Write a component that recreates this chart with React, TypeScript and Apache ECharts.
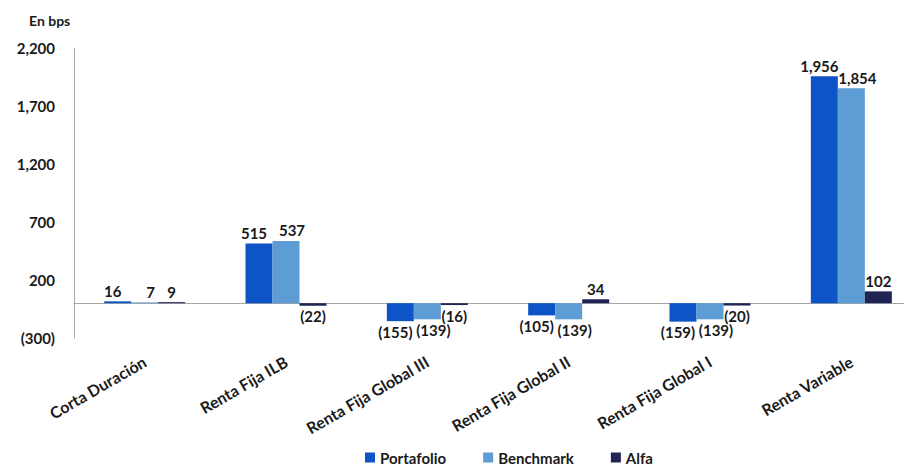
import React, { useEffect, useRef } from "react";
import * as echarts from "echarts";

const categories = [
  "Corta Duración",
  "Renta Fija ILB",
  "Renta Fija Global III",
  "Renta Fija Global II",
  "Renta Fija Global I",
  "Renta Variable",
];
const portafolio = [16, 515, -155, -105, -159, 1956];
const benchmark = [7, 537, -139, -139, -139, 1854];
const alfa = [9, -22, -16, 34, -20, 102];

const FONT = "Lato, 'Noto Sans', sans-serif";

const fmt = (v: number) => {
  const s = Math.abs(v).toLocaleString("en-US");
  return v < 0 ? `(${s})` : s;
};

const makeSeries = (name: string, data: number[], color: string, shift: number) => ({
  name,
  type: "bar",
  xAxisIndex: 0,
  data: data.map((v) => ({
    value: v,
    label: { position: v < 0 ? "bottom" : "top", offset: [shift, 0] },
  })),
  barWidth: 27,
  barGap: "0%",
  itemStyle: { color },
  label: {
    show: true,
    color: "#1a1a1a",
    fontFamily: FONT,
    fontWeight: "bold",
    fontSize: 15,
    distance: 3,
    formatter: (p: any) => fmt(p.value),
  },
});

export default function App() {
  const ref = useRef<HTMLDivElement>(null);
  useEffect(() => {
    if (!ref.current) return;
    const chart = echarts.init(ref.current, undefined, { renderer: "svg" });
    chart.setOption({
      animation: false,
      backgroundColor: "#ffffff",
      textStyle: { fontFamily: FONT },
      title: {
        text: "En bps",
        left: 24,
        top: 8,
        textStyle: { fontFamily: FONT, fontWeight: "bold", fontSize: 14, color: "#1a1a1a" },
      },
      legend: {
        top: 445,
        left: 360,
        itemWidth: 10,
        itemHeight: 10,
        itemGap: 37,
        icon: "rect",
        textStyle: { fontFamily: FONT, fontWeight: "bold", fontSize: 15, color: "#1a1a1a" },
        data: ["Portafolio", "Benchmark", "Alfa"],
      },
      grid: { left: 74, right: 0, top: 48, bottom: 128, containLabel: false },
      xAxis: [
        {
          type: "category",
          data: categories,
          position: "bottom",
          axisLine: { show: false, onZero: false },
          axisTick: { show: false },
          axisLabel: {
            rotate: 30,
            margin: 22,
            interval: 0,
            fontFamily: FONT,
            fontWeight: "bold",
            fontSize: 16,
            color: "#1a1a1a",
          },
        },
        {
          type: "category",
          data: categories,
          position: "top",
          axisLine: { show: true, onZero: true, lineStyle: { color: "#a6a6a6", width: 1 } },
          axisTick: { show: false },
          axisLabel: { show: false },
        },
      ],
      yAxis: {
        type: "value",
        min: -300,
        max: 2200,
        interval: 500,
        axisLine: { show: true, lineStyle: { color: "#a6a6a6", width: 1 } },
        axisTick: { show: false },
        splitLine: { show: false },
        axisLabel: {
          margin: 19,
          fontFamily: FONT,
          fontWeight: "bold",
          fontSize: 15,
          color: "#1a1a1a",
          formatter: (v: number) => fmt(v),
        },
      },
      series: [
        makeSeries("Portafolio", portafolio, "#0d55c6", -5),
        makeSeries("Benchmark", benchmark, "#5e9cd6", 6),
        makeSeries("Alfa", alfa, "#1f2454", 0),
      ],
    });
    return () => chart.dispose();
  }, []);
  return (
    <div
      ref={ref}
      style={{ position: "fixed", left: 0, top: 0, width: 922, height: 466 }}
    />
  );
}
